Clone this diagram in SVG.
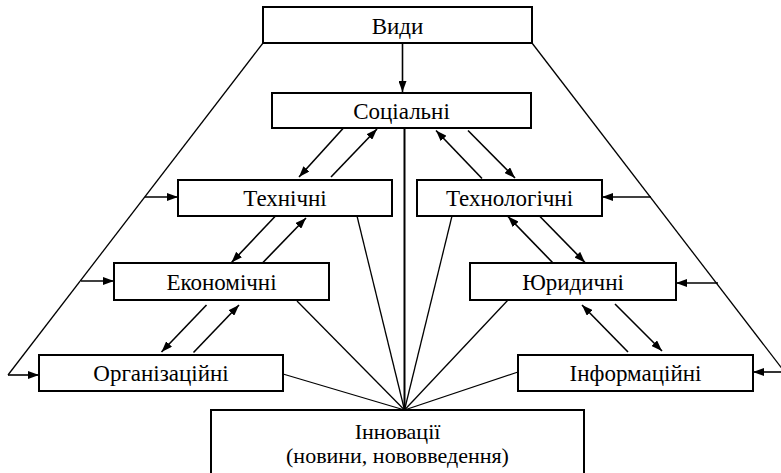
<svg xmlns="http://www.w3.org/2000/svg" width="781" height="473" viewBox="0 0 781 473">
<defs>
<marker id="ah" viewBox="0 0 11 8" refX="11" refY="4" markerWidth="11" markerHeight="8" orient="auto" markerUnits="userSpaceOnUse">
<path d="M0,0 L11,4 L0,8 z" fill="#000"/>
</marker>
<style>
.box{fill:#fff;stroke:#000;stroke-width:2}
.t{font-family:'Liberation Serif','Times New Roman','DejaVu Serif',serif;font-size:23px;text-anchor:middle;fill:#000}
.ln{stroke:#000;stroke-width:1.3;fill:none}
.ar{stroke:#000;stroke-width:1.6;fill:none;marker-end:url(#ah)}
</style>
</defs>
<rect width="781" height="473" fill="#fff"/>
<g id="connectors">
<line class="ln" x1="263" y1="43" x2="8" y2="375"/>
<line class="ln" x1="532" y1="43" x2="790" y2="379"/>
<line class="ar" x1="402.5" y1="43" x2="402.5" y2="92"/>
<line x1="404.5" y1="128" x2="404.5" y2="410" stroke="#000" stroke-width="2"/>
<line class="ln" x1="357" y1="216" x2="404.5" y2="410"/>
<line class="ln" x1="452" y1="216" x2="404.5" y2="410"/>
<line class="ln" x1="297" y1="301" x2="404.5" y2="410"/>
<line class="ln" x1="508" y1="300" x2="404.5" y2="410"/>
<line class="ln" x1="283" y1="374" x2="404.5" y2="410"/>
<line class="ln" x1="518" y1="372" x2="404.5" y2="410"/>
<line class="ar" x1="145" y1="197" x2="178" y2="197"/>
<line class="ar" x1="81" y1="281" x2="114" y2="281"/>
<line class="ar" x1="8" y1="375" x2="39" y2="375"/>
<line class="ar" x1="651" y1="197" x2="602" y2="197"/>
<line class="ar" x1="718" y1="283" x2="676" y2="283"/>
<line class="ar" x1="781" y1="372" x2="753" y2="372"/>
<line class="ar" x1="343" y1="128.5" x2="299" y2="177"/>
<line class="ar" x1="331" y1="177" x2="377" y2="129"/>
<line class="ar" x1="482" y1="178.5" x2="436" y2="130.5"/>
<line class="ar" x1="468" y1="130.5" x2="515" y2="178"/>
<line class="ar" x1="275" y1="216.5" x2="231.5" y2="262.5"/>
<line class="ar" x1="262.5" y1="263" x2="306" y2="218"/>
<line class="ar" x1="540" y1="216.5" x2="585" y2="262.5"/>
<line class="ar" x1="553" y1="263" x2="508" y2="216.5"/>
<line class="ar" x1="206.5" y1="305" x2="161.5" y2="352"/>
<line class="ar" x1="193.5" y1="352.5" x2="239" y2="305"/>
<line class="ar" x1="628" y1="352" x2="582" y2="305"/>
<line class="ar" x1="615" y1="304" x2="662" y2="351"/>
</g>
<g font-family="Liberation Serif, serif">
<g id="node-vydy"><rect class="box" x="263" y="7" width="269" height="36"/><text class="t" x="397.5" y="33.5">Види</text></g>
<g id="node-sotsialni"><rect class="box" x="272" y="93" width="259" height="35"/><text class="t" x="401.5" y="118.5">Соціальні</text></g>
<g id="node-tekhnichni"><rect class="box" x="178" y="180" width="214" height="36"/><text class="t" x="285" y="206">Технічні</text></g>
<g id="node-tekhnolohichni"><rect class="box" x="417" y="180" width="185" height="36"/><text class="t" x="509.5" y="206">Технологічні</text></g>
<g id="node-ekonomichni"><rect class="box" x="114" y="263" width="215" height="37"/><text class="t" x="221.5" y="289.5">Економічні</text></g>
<g id="node-yurydychni"><rect class="box" x="470" y="263" width="206" height="37"/><text class="t" x="573" y="289.5">Юридичні</text></g>
<g id="node-orhanizatsiini"><rect class="box" x="39" y="355" width="244" height="36"/><text class="t" x="161" y="381">Організаційні</text></g>
<g id="node-informatsiini"><rect class="box" x="518" y="355" width="235" height="36"/><text class="t" x="635.5" y="381">Інформаційні</text></g>
<g id="node-innovatsii"><rect class="box" x="211" y="410" width="373" height="80"/><text class="t" x="397.5" y="439" style="font-size:22px">Інновації</text><text class="t" x="397.5" y="463" style="font-size:22px">(новини, нововведення)</text></g>
</g>
</svg>
